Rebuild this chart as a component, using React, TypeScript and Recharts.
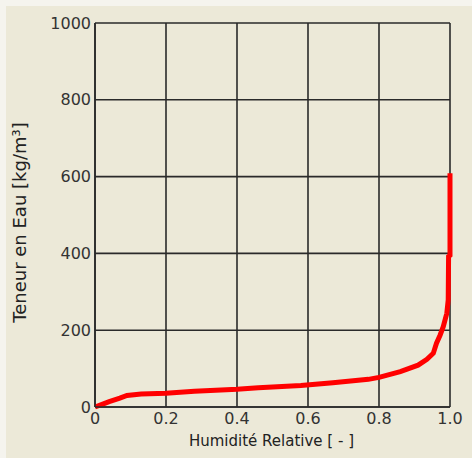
import React from "react";
import { LineChart, Line, XAxis, YAxis, CartesianGrid } from "recharts";

const humidity = [0, 0.02, 0.04, 0.07, 0.09, 0.13, 0.2, 0.28, 0.4, 0.46, 0.58, 0.67, 0.77, 0.8, 0.86, 0.91, 0.935, 0.953, 0.962, 0.972, 0.981, 0.991, 0.995, 0.996, 1.0, 1.0];
const water = [0, 7, 14, 23, 30, 34, 36, 41, 46, 50, 56, 63, 72, 77, 92, 109, 124, 140, 166, 187, 209, 244, 279, 392, 395, 609];
const xTicks = [0, 0.2, 0.4, 0.6, 0.8, 1.0];
const yTicks = [0, 200, 400, 600, 800, 1000];
const xTitle = "Humidité Relative [ - ]";
const yTitle = "Teneur en Eau [kg/m³]";

const data = humidity.map((h, i) => ({ rh: h, w: water[i] }));

const FONT = "'DejaVu Sans', Verdana, sans-serif";

export default function App() {
  return (
    <div style={{ position: "fixed", left: 0, top: 0, width: 472, height: 458, background: "#F5F4EE" }}>
      <div style={{ position: "absolute", left: 6, top: 6, width: 466, height: 452, background: "#ECE9D8" }} />
      <div style={{ position: "absolute", left: 0, top: 0 }}>
        <LineChart width={472} height={458} data={data} margin={{ top: 23, right: 22, bottom: 21, left: 0 }}>
          <CartesianGrid stroke="#2a2a2a" strokeWidth={1.6} horizontalPoints={undefined} />
          <XAxis
            type="number"
            dataKey="rh"
            domain={[0, 1]}
            ticks={xTicks}
            interval={0}
            height={30}
            tickLine={false}
            tickSize={0}
            tickMargin={6}
            axisLine={{ stroke: "#2a2a2a", strokeWidth: 1.6 }}
            tick={{ fill: "#333", fontSize: 16, fontFamily: FONT }}
            tickFormatter={(v: number) => (v === 0 ? "0" : v.toFixed(1))}
            label={{
              content: () => (
                <text x={271.5} y={441} textAnchor="middle" dominantBaseline="central" fill="#222" fontSize={15} fontFamily={FONT}>
                  {xTitle}
                </text>
              ),
            }}
          />
          <YAxis
            type="number"
            domain={[0, 1000]}
            ticks={yTicks}
            interval={0}
            width={95}
            tickLine={false}
            tickSize={0}
            tickMargin={4}
            axisLine={{ stroke: "#2a2a2a", strokeWidth: 1.6 }}
            tick={{ fill: "#333", fontSize: 16, fontFamily: FONT }}
            label={{
              content: () => (
                <text
                  x={19}
                  y={222.5}
                  textAnchor="middle"
                  dominantBaseline="central"
                  fill="#222"
                  fontSize={18}
                  fontFamily={FONT}
                  transform="rotate(-90 19 222.5)"
                >
                  {yTitle}
                </text>
              ),
            }}
          />
          <Line
            type="linear"
            dataKey="w"
            stroke="#FF0000"
            strokeWidth={5}
            dot={false}
            isAnimationActive={false}
          />
        </LineChart>
      </div>
    </div>
  );
}
